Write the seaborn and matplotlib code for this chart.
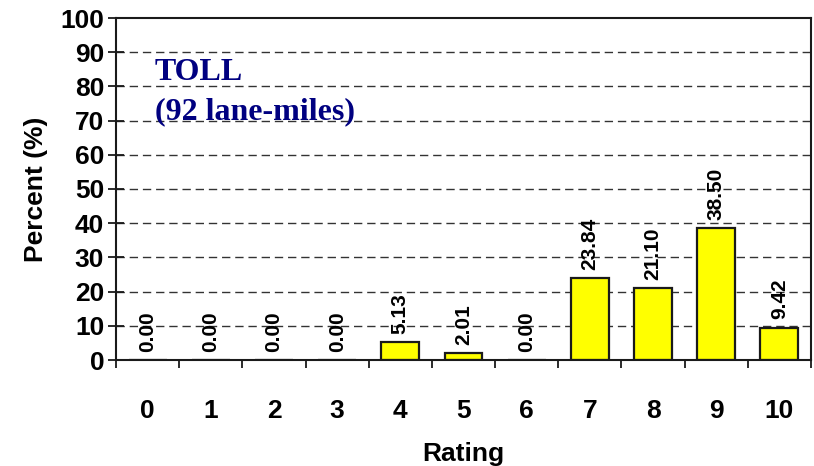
import matplotlib
matplotlib.use("Agg")
import matplotlib.pyplot as plt
import seaborn as sns
import pandas as pd

ratings = ["0", "1", "2", "3", "4", "5", "6", "7", "8", "9", "10"]
percent = [0.00, 0.00, 0.00, 0.00, 5.13, 2.01, 0.00, 23.84, 21.10, 38.50, 9.42]
y_ticks = [0, 10, 20, 30, 40, 50, 60, 70, 80, 90, 100]

df = pd.DataFrame({"Rating": ratings, "Percent": percent})

sns.set_theme(style="white")
plt.rcParams["font.family"] = ["Liberation Sans", "DejaVu Sans"]
plt.rcParams["text.color"] = "black"
plt.rcParams["axes.labelcolor"] = "black"
plt.rcParams["xtick.color"] = "black"
plt.rcParams["ytick.color"] = "black"

fig = plt.figure(figsize=(8.14, 4.66), dpi=100)
ax = fig.add_axes([116 / 814, 1 - 360 / 466, (811 - 116) / 814, (360 - 18) / 466])

sns.barplot(data=df, x="Rating", y="Percent", order=ratings, color="#FFFF00",
            edgecolor="#1a1a1a", linewidth=1.6, width=0.6, saturation=1, ax=ax)

ax.set_xlim(-0.5, len(ratings) - 0.5)
ax.set_ylim(0, 100)
ax.set_yticks(y_ticks)

# dashed horizontal grid
for v in y_ticks[1:-1]:
    ax.axhline(v, color="#333333", lw=1.0, ls=(0, (6, 3.5)), zorder=0)

for s in ax.spines.values():
    s.set_color("#1a1a1a")
    s.set_linewidth(1.5)
    s.set_visible(True)

# value labels above bars
for i, v in enumerate(percent):
    ax.annotate(f"{v:.2f}", (i, v), xytext=(0, 6), textcoords="offset points",
                rotation=90, ha="center", va="bottom", fontsize=15,
                fontweight="bold", color="black")

# tick styling
ax.tick_params(axis="y", which="major", direction="inout", length=11, width=1.3,
               color="#1a1a1a", labelsize=19, pad=3, left=True)
ax.tick_params(axis="x", which="major", length=0, labelsize=19, pad=28)
ax.set_xticks([i - 0.5 for i in range(len(ratings) + 1)], minor=True)
ax.tick_params(axis="x", which="minor", direction="out", length=6, width=1.3,
               color="#1a1a1a", bottom=True)
for lbl in ax.get_xticklabels() + ax.get_yticklabels():
    lbl.set_fontweight("bold")

ax.set_xlabel("Rating", fontsize=19, fontweight="bold", labelpad=14)
ax.set_ylabel("Percent (%)", fontsize=19, fontweight="bold", labelpad=9)

ax.text(0.056, 0.819, "TOLL", transform=ax.transAxes, fontsize=23,
        fontweight="bold", color="#000080", family=["Liberation Serif", "DejaVu Serif"],
        va="baseline", ha="left")
ax.text(0.056, 0.705, "(92 lane-miles)", transform=ax.transAxes, fontsize=23,
        fontweight="bold", color="#000080", family=["Liberation Serif", "DejaVu Serif"],
        va="baseline", ha="left")

fig.savefig("out.png", dpi=100)
